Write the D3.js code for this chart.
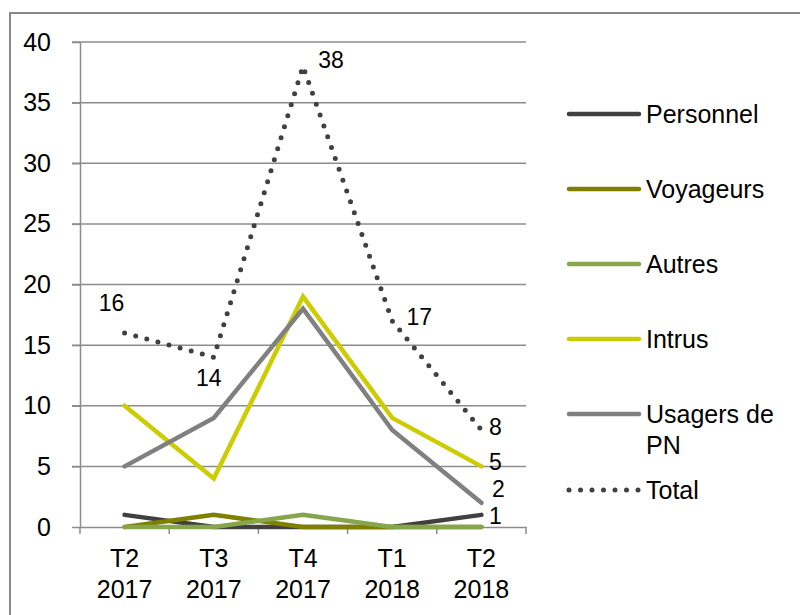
<!DOCTYPE html>
<html>
<head>
<meta charset="utf-8">
<script src="https://cdn.jsdelivr.net/npm/d3@7"></script>
<style>
  body { margin: 0; background: #fff; }
  text { font-family: "Liberation Sans", Arial, sans-serif; fill: #000; }
</style>
</head>
<body>
<div id="chart"></div>
<script>
// Chart data
var categories = ["T2 2017", "T3 2017", "T4 2017", "T1 2018", "T2 2018"];
var personnel = [1, 0, 0, 0, 1];
var voyageurs = [0, 1, 0, 0, 0];
var autres = [0, 0, 1, 0, 0];
var intrus = [10, 4, 19, 9, 5];
var usagers = [5, 9, 18, 8, 2];
var total = [16, 14, 38, 17, 8];
var yTicks = [0, 5, 10, 15, 20, 25, 30, 35, 40];

var series = [
  {name: "Personnel", values: personnel, color: "#404040"},
  {name: "Voyageurs", values: voyageurs, color: "#808000"},
  {name: "Autres", values: autres, color: "#87a54b"},
  {name: "Intrus", values: intrus, color: "#cccc00"},
  {name: "Usagers de PN", values: usagers, color: "#808080"},
  {name: "Total", values: total, color: "#404040", dotted: true}
];

// which points get a value label, and where it sits (offset of the label centre)
var labels = [
  {s: 5, i: 0, dx: -13, dy: -30},
  {s: 5, i: 1, dx: -5, dy: 21},
  {s: 5, i: 2, dx: 28, dy: -6},
  {s: 5, i: 3, dx: 27, dy: -4},
  {s: 5, i: 4, dx: 14, dy: -3},
  {s: 3, i: 4, dx: 14, dy: -4},
  {s: 4, i: 4, dx: 17, dy: -14},
  {s: 0, i: 4, dx: 14, dy: 1}
];

var W = 800, H = 615;
var FS = "25px";
var svg = d3.select("#chart").append("svg").attr("width", W).attr("height", H);

// outer frame (runs off the right and bottom)
svg.append("rect")
  .attr("x", 10).attr("y", 13).attr("width", 820).attr("height", 640)
  .attr("fill", "none").attr("stroke", "#898989").attr("stroke-width", 2);

var x = d3.scaleBand().domain(categories).range([80, 526]);
var y = d3.scaleLinear().domain([0, 40]).range([527, 42]);

// gridlines
svg.append("g").selectAll("line").data(yTicks.slice(1)).enter().append("line")
  .attr("x1", 72).attr("x2", 526)
  .attr("y1", function(d) { return y(d); }).attr("y2", function(d) { return y(d); })
  .attr("stroke", "#8c8c8c").attr("stroke-width", 1.5);

// y axis
var yAxis = svg.append("g").attr("transform", "translate(80,0)")
  .call(d3.axisLeft(y).tickValues(yTicks).tickSize(8).tickSizeOuter(0).tickPadding(21));
yAxis.select(".domain").attr("stroke", "#8c8c8c").attr("stroke-width", 1.5);
yAxis.selectAll(".tick line").attr("stroke", "#8c8c8c").attr("stroke-width", 1.5);
yAxis.selectAll(".tick text").style("font-size", FS).attr("fill", "#000")
  .attr("font-family", "Liberation Sans, Arial, sans-serif");

// x axis
var xAxis = svg.append("g").attr("transform", "translate(0,527)")
  .call(d3.axisBottom(x).tickSize(0).tickFormat(""));
xAxis.select(".domain").attr("stroke", "#8c8c8c").attr("stroke-width", 1.5);
var edges = categories.map(function(c) { return x(c); }).concat([x.range()[1]]);
svg.append("g").selectAll("line").data(edges).enter().append("line")
  .attr("x1", function(d) { return d; }).attr("x2", function(d) { return d; })
  .attr("y1", 527).attr("y2", 534)
  .attr("stroke", "#8c8c8c").attr("stroke-width", 1.5);

var xl = svg.append("g").selectAll("text").data(categories).enter().append("text")
  .attr("x", function(d) { return x(d) + x.bandwidth() / 2; })
  .attr("text-anchor", "middle").style("font-size", FS);
xl.append("tspan").attr("x", function(d) { return x(d) + x.bandwidth() / 2; })
  .attr("y", 567).text(function(d) { return d.split(" ")[0]; });
xl.append("tspan").attr("x", function(d) { return x(d) + x.bandwidth() / 2; })
  .attr("y", 598).text(function(d) { return d.split(" ")[1]; });

// lines
var line = d3.line()
  .x(function(d, i) { return x(categories[i]) + x.bandwidth() / 2; })
  .y(function(d) { return y(d); });

series.forEach(function(s) {
  var p = svg.append("path").datum(s.values)
    .attr("d", line).attr("fill", "none")
    .attr("stroke", s.color);
  if (s.dotted) {
    p.attr("stroke-width", 5).attr("stroke-dasharray", "0 11.5").attr("stroke-linecap", "round");
  } else {
    p.attr("stroke-width", 4.5).attr("stroke-linejoin", "miter").attr("stroke-linecap", "round");
  }
});

// value labels
svg.append("g").selectAll("text").data(labels).enter().append("text")
  .attr("x", function(d) { return x(categories[d.i]) + x.bandwidth() / 2 + d.dx; })
  .attr("y", function(d) { return y(series[d.s].values[d.i]) + d.dy + 8; })
  .attr("text-anchor", "middle")
  .style("font-size", "23px")
  .text(function(d) { return series[d.s].values[d.i]; });

// legend
var legendY = [114, 189, 264, 339, 414, 490];
var lg = svg.append("g").selectAll("g").data(series).enter().append("g")
  .attr("transform", function(d, i) { return "translate(0," + legendY[i] + ")"; });
lg.append("line").attr("x1", 569).attr("x2", 639).attr("y1", 0).attr("y2", 0)
  .attr("stroke", function(d) { return d.color; })
  .attr("stroke-width", function(d) { return d.dotted ? 5 : 4.5; })
  .attr("stroke-linecap", "round")
  .attr("stroke-dasharray", function(d) { return d.dotted ? "0 11.5" : null; });
lg.each(function(d) {
  var g = d3.select(this);
  var words = d.name === "Usagers de PN" ? ["Usagers de", "PN"] : [d.name];
  words.forEach(function(w, k) {
    g.append("text").attr("x", 646).attr("y", k * 31 + 9)
      .style("font-size", FS).text(w);
  });
});
</script>
</body>
</html>
